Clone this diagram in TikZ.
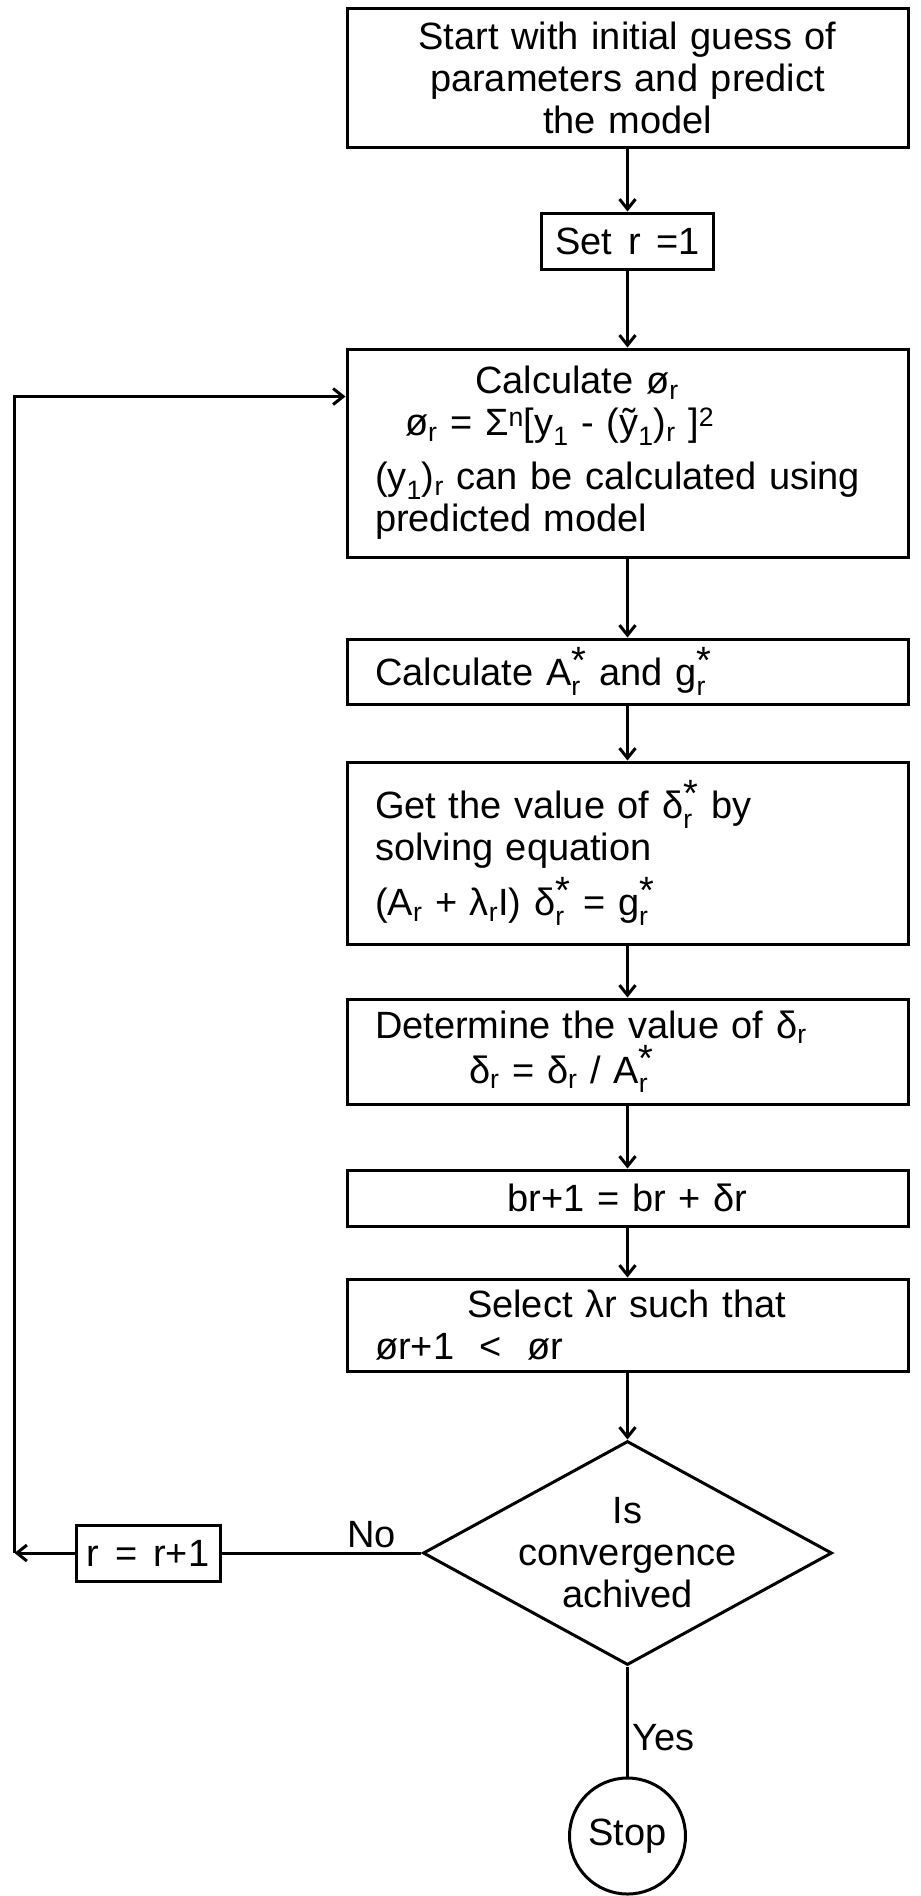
\documentclass[tikz,border=0pt]{standalone}
\usepackage{fontspec}
\setmainfont{Liberation Sans}[WordSpace=1.5]
\usepackage{amsmath}
\usepackage{tikz}
\usetikzlibrary{arrows.meta,positioning,shapes.geometric}

\newcommand{\starsub}[2]{#1\(^{\raisebox{3pt}{\text{*}}}_{\text{#2}}\)}

\begin{document}
\begin{tikzpicture}[
                font=\fontsize{38}{42}\selectfont,
                box/.style={draw, line width=3pt, minimum width=561pt, text width=505pt, inner xsep=28pt, inner ysep=4pt, align=left},
                small/.style={draw, line width=3pt, inner sep=4pt, align=center},
                flow/.style={-{Straight Barb[length=10pt,width=16pt]}, line width=3pt},
                link/.style={line width=3pt}
            ]
            \useasboundingbox (0,0) rectangle (921pt,-1896pt);
            \node[box, align=center, minimum height=139pt] (start) at (627.5pt,-77.5pt) {Start with initial guess of\\parameters and predict\\the model};
            \node[small, minimum width=172pt, minimum height=56pt, below=63pt of start] (setr) {Set r =1};
            \node[box, minimum height=208pt, below=77pt of setr] (phi) {\hspace*{100pt}Calculate ø\textsubscript{r}\\ \hspace*{30pt}ø\textsubscript{r} = Σ\textsuperscript{n}[y\textsubscript{1} - (ỹ\textsubscript{1})\textsubscript{r} ]\textsuperscript{2}\\[12pt] (y\textsubscript{1})\textsubscript{r} can be calculated using\\predicted model};
            \node[box, minimum height=65pt, below=79pt of phi] (agr) {Calculate \starsub{A}{r} and \starsub{g}{r}};
            \node[box, minimum height=182pt, below=55pt of agr] (delta) {Get the value of \starsub{δ}{r} by\\solving equation\\[8pt](A\textsubscript{r} + λ\textsubscript{r}I) \starsub{δ}{r} = \starsub{g}{r}};
            \node[box, minimum height=105pt, below=52pt of delta] (det) {Determine the value of δ\textsubscript{r}\\ \hspace*{94pt}δ\textsubscript{r} = δ\textsubscript{r} / \starsub{A}{r}};
            \node[box, align=center, minimum height=56pt, below=63pt of det] (upd) {br+1 = br + δr};
            \node[box, minimum height=92pt, below=50pt of upd] (sel) {\hspace*{92pt}Select λr such that\\ør+1 {} < {} ør};
            \node[draw, diamond, line width=3pt, aspect=1.83, minimum width=409pt, minimum height=224pt, inner sep=-8pt, align=center, below=67pt of sel] (conv) {Is\\convergence\\achived};
            \node[draw, circle, line width=3pt, minimum size=116pt, inner sep=0pt, below=110pt of conv] (stop) {Stop};
            \node[small, minimum width=144pt, minimum height=56pt, left=200pt of conv] (rr) {r = r+1};
            \coordinate[left=60pt of rr] (back);
            \coordinate (inlet) at ([yshift=-49pt]phi.north west);
            \draw[flow] (start) -- (setr);
            \draw[flow] (setr) -- (phi);
            \draw[flow] (phi) -- (agr);
            \draw[flow] (agr) -- (delta);
            \draw[flow] (delta) -- (det);
            \draw[flow] (det) -- (upd);
            \draw[flow] (upd) -- (sel);
            \draw[flow] (sel) -- (conv);
            \draw[link] (conv) -- node[above, pos=0.25] (no) {No} (rr);
            \draw[flow] (rr) -- (back);
            \draw[flow] (back) |- (inlet);
            \draw[link] (conv) -- node[right, pos=0.65] (yes) {Yes} (stop);
        \end{tikzpicture}
\end{document}
